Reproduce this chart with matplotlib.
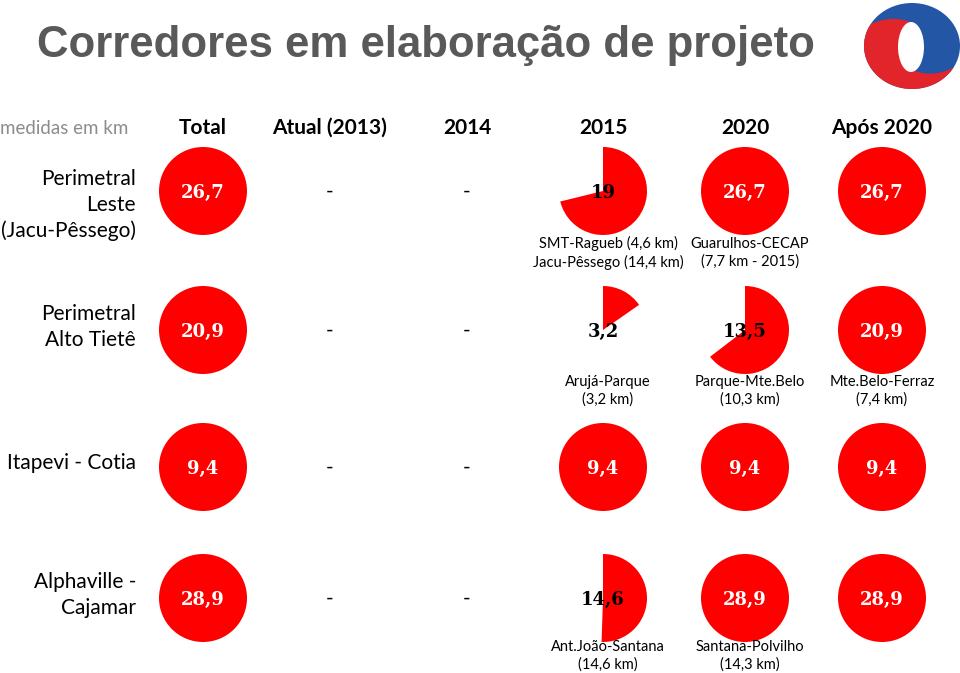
import matplotlib
matplotlib.use("Agg")
import matplotlib.pyplot as plt
from matplotlib.patches import Ellipse, PathPatch
from matplotlib.path import Path

# ---------------- data ----------------
corridors = ["Perimetral\nLeste\n(Jacu-Pêssego)", "Perimetral\nAlto Tietê",
             "Itapevi - Cotia", "Alphaville -\nCajamar"]
columns = ["Total", "Atual (2013)", "2014", "2015", "2020", "Após 2020"]
totals = [26.7, 20.9, 9.4, 28.9]
atual_2013 = [None, None, None, None]
km_2014 = [None, None, None, None]
km_2015 = [19.0, 3.2, 9.4, 14.6]
km_2020 = [26.7, 13.5, 9.4, 28.9]
km_apos = [26.7, 20.9, 9.4, 28.9]
sub_2015 = ["SMT-Ragueb (4,6 km)\nJacu-Pêssego (14,4 km)", "Arujá-Parque\n(3,2 km)",
            "", "Ant.João-Santana\n(14,6 km)"]
sub_2020 = ["Guarulhos-CECAP\n(7,7 km - 2015)", "Parque-Mte.Belo\n(10,3 km)",
            "", "Santana-Polvilho\n(14,3 km)"]
sub_apos = ["", "Mte.Belo-Ferraz\n(7,4 km)", "", ""]

# ---------------- layout ----------------
W, H = 960, 673
fig = plt.figure(figsize=(W / 100, H / 100), dpi=100)
ax = fig.add_axes([0, 0, 1, 1])

def Y(y):
    return H - y

col_x = [203, 330, 467, 603, 745, 882]
row_y = [191, 330, 467, 598]
sub_y = [253, 391, 0, 656]
R = 44
RED = "#FF0000"
label_font = "Lato"
num_font = "DejaVu Serif"

# title
ax.text(37, Y(46), "Corredores em elaboração de projeto", fontsize=31.5, fontweight="bold",
        color="#595959", family="Liberation Sans", ha="left", va="center")

# logo
outer = Ellipse((912, Y(46)), 96, 86, facecolor="#2456A6", edgecolor="none", zorder=2)
ax.add_patch(outer)
pts = [(855, 38), (865, 22), (890, 14), (910, 22), (913, 70),
       (928, 77), (948, 74), (965, 60), (965, 100), (855, 100), (855, 38)]
codes = [Path.MOVETO, Path.CURVE4, Path.CURVE4, Path.CURVE4, Path.LINETO,
         Path.CURVE4, Path.CURVE4, Path.CURVE4, Path.LINETO, Path.LINETO, Path.CLOSEPOLY]
red = PathPatch(Path([(x, Y(y)) for x, y in pts], codes), facecolor="#E2252B",
                edgecolor="none", zorder=3)
ax.add_patch(red)
red.set_clip_path(outer)
ax.add_patch(Ellipse((911, Y(47)), 26, 50, facecolor="white", edgecolor="none", zorder=4))

# header
ax.text(0, Y(128), "medidas em km", fontsize=13.5, color="#8C8C8C", family=label_font,
        ha="left", va="center")
for x, c in zip(col_x, columns):
    ax.text(x, Y(128), c, fontsize=15, fontweight="bold", color="black", family=label_font,
            ha="center", va="center")

# row labels
for y, name in zip(row_y, corridors):
    n = name.count("\n")
    yy = y + (14 if n == 2 else (-3 if n == 1 else -4))
    ax.text(136, Y(yy), name, fontsize=15, color="black", family=label_font,
            ha="right", va="center", linespacing=1.33)

def draw_pie(x, y, value, total):
    frac = value / total
    if frac >= 0.999:
        vals, cols = [1], [RED]
    else:
        vals, cols = [value, total - value], [RED, (0, 0, 0, 0)]
    ax.pie(vals, colors=cols, center=(x, Y(y)), radius=R, startangle=90,
           counterclock=False, frame=True, wedgeprops=dict(linewidth=0))
    txt = f"{value:g}".replace(".", ",")
    ax.text(x, Y(y + 2), txt, fontsize=13, fontweight="bold", family=num_font,
            color="white" if frac >= 0.999 else "black", ha="center", va="center", zorder=5)

def draw_sub(x, y, text):
    if text:
        ax.text(x, Y(y), text, fontsize=10.5, family=label_font, color="black",
                ha="center", va="center", linespacing=1.3)

for i, y in enumerate(row_y):
    draw_pie(col_x[0], y, totals[i], totals[i])
    for j, v in ((1, atual_2013[i]), (2, km_2014[i])):
        ax.text(col_x[j], Y(y + 1), "-" if v is None else f"{v:g}", fontsize=15,
                family=label_font, ha="center", va="center")
    draw_pie(col_x[3], y, km_2015[i], totals[i])
    draw_pie(col_x[4], y, km_2020[i], totals[i])
    draw_pie(col_x[5], y, km_apos[i], totals[i])
    draw_sub(col_x[3] + 5, sub_y[i], sub_2015[i])
    draw_sub(col_x[4] + 5, sub_y[i], sub_2020[i])
    draw_sub(col_x[5], sub_y[i], sub_apos[i])

ax.set_xlim(0, W)
ax.set_ylim(0, H)
ax.set_aspect("equal")
ax.axis("off")
fig.savefig("out.png", dpi=100)
